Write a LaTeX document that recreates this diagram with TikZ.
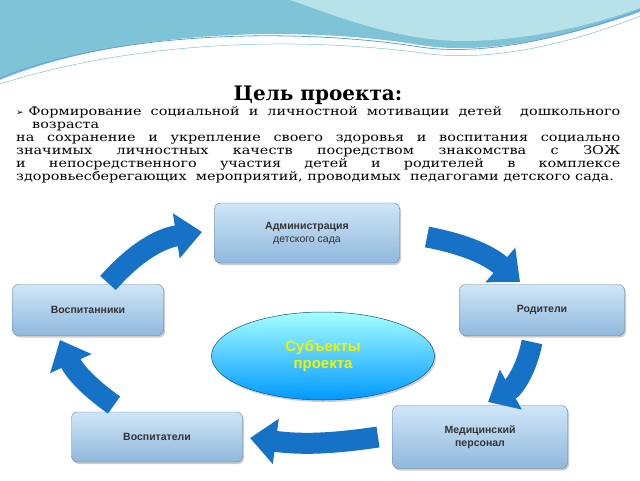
\documentclass[tikz,border=0pt]{standalone}
\usepackage{fontspec}
\setmainfont{DejaVu Serif}
\setsansfont{Liberation Sans}
\newfontfamily\djs{DejaVu Sans}
\newfontfamily\bodyf[FakeStretch=1.2]{DejaVu Serif}
\usetikzlibrary{arrows.meta,shadows,shapes.geometric}
\definecolor{arr}{HTML}{1672C6}
\definecolor{boxtop}{HTML}{CFE6F8}
\definecolor{boxbot}{HTML}{8FB8DC}
\definecolor{wave1}{HTML}{7FC4D6}
\definecolor{wave2}{HTML}{B8E2EA}
\definecolor{ytxt}{HTML}{F2F200}
\begin{document}
\begin{tikzpicture}[x=1pt,y=-1pt,
  box/.style={draw=boxbot!70!black,line width=0.4pt,rounded corners=6pt,top color=boxtop,bottom color=boxbot,
    drop shadow={shadow xshift=1.5pt,shadow yshift=-2pt,opacity=0.4},
    font=\sffamily\bfseries\fontsize{10.5}{12}\selectfont,text=black!80,align=center,inner sep=0pt},
  flow/.style={arr,line width=21pt,-{Triangle[width=44pt,length=26pt]}}]
\useasboundingbox (0,0) rectangle (640,480);
\fill[white] (0,0) rectangle (640,480);
% waves
\fill[wave1] (0,0) -- (640,0) -- (640,12) .. controls (560,40) and (480,55) .. (420,45) .. controls (300,25) and (120,30) .. (0,80) -- cycle;
\fill[wave2] (290,0) -- (640,0) -- (640,8) .. controls (580,30) and (500,45) .. (440,40) .. controls (380,35) and (320,10) .. (290,0) -- cycle;
\draw[wave1!80!blue,line width=0.8pt] (0,78) .. controls (120,30) and (300,28) .. (420,47) .. controls (480,56) and (560,40) .. (640,10);
\draw[wave1,line width=0.5pt] (0,84) .. controls (140,40) and (300,36) .. (430,54) .. controls (500,62) and (580,40) .. (640,16);
% text
\node[font=\bfseries\fontsize{20}{22}\selectfont] (title) at (318,95) {Цель проекта:};
\node[anchor=north west,text width=604pt,align=justify,inner sep=0pt,font=\bodyf\fontsize{12}{13}\selectfont] (txt) at (16,106)
 {\hangindent=16pt\hangafter=1{\djs\fontsize{9}{13}\selectfont ➢}\hspace{5pt}Формирование социальной и личностной мотивации детей \ дошкольного возраста\par
 \hangindent=0pt на сохранение и укрепление своего здоровья и воспитания социально значимых личностных качеств посредством знакомства с ЗОЖ и непосредственного участия детей и родителей в комплексе здоровьесберегающих \ мероприятий, проводимых \ педагогами детского сада.};
% nodes
\node[box,minimum width=185pt,minimum height=60pt] (adm) at (307,233) {Администрация\\[1pt]{\mdseries детского сада}};
\node[box,minimum width=165pt,minimum height=51pt] (rod) at (542,310) {Родители};
\node[box,minimum width=175pt,minimum height=63pt] (med) at (480,437) {Медицинский\\[1pt]персонал};
\node[box,minimum width=171pt,minimum height=50pt] (vos) at (157,437) {Воспитатели};
\node[box,minimum width=151pt,minimum height=51pt] (vsp) at (88,310) {Воспитанники};
\node[ellipse,draw=arr!70!black,line width=0.5pt,top color=cyan!35!white,bottom color=cyan!60!blue,
  minimum width=223pt,minimum height=88pt,font=\sffamily\bfseries\fontsize{15}{17}\selectfont,text=ytxt,align=center,
  drop shadow={shadow xshift=1.5pt,shadow yshift=-2pt,opacity=0.4}] (subj) at (323,356) {Субъекты\\проекта};
% arrows
\coordinate (a1s) at (108,283); \coordinate (a1e) at (202,232);
\coordinate (a2s) at (427,237); \coordinate (a2e) at (520,282);
\coordinate (a3s) at (532,342); \coordinate (a3e) at (488,402);
\coordinate (a4s) at (378,437); \coordinate (a4e) at (250,438);
\coordinate (a5s) at (114,405); \coordinate (a5e) at (60,340);
\draw[flow] (a1s) to[bend left=20] (a1e);
\draw[flow] (a2s) to[bend left=15] (a2e);
\draw[flow] (a3s) to[bend left=25] (a3e);
\draw[flow] (a4s) to[bend left=8] (a4e);
\draw[flow] (a5s) to[bend left=15] (a5e);
\end{tikzpicture}
\end{document}
